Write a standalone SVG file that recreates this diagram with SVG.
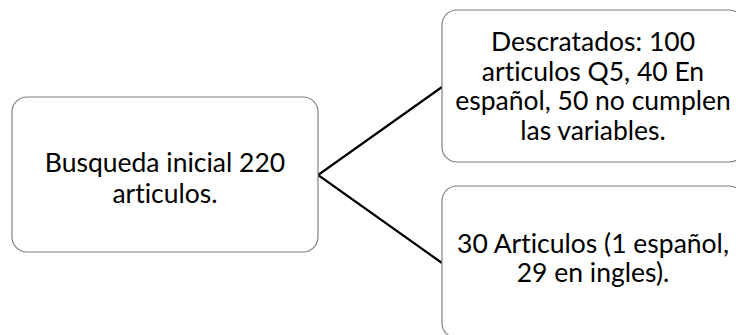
<svg xmlns="http://www.w3.org/2000/svg" width="736" height="335" viewBox="0 0 736 335">
<style>
.box{fill:#ffffff;stroke:#808080;stroke-width:1.2}
.t{font-family:Lato,"Open Sans",sans-serif;font-size:26.5px;fill:#000000;text-anchor:middle;font-variant-ligatures:none;font-feature-settings:"liga" 0,"clig" 0}
.c{stroke:#000000;stroke-width:2.2;fill:none}
</style>
<rect width="736" height="335" fill="#ffffff"/>
<g id="connectors">
<polyline class="c" points="442,87 318,175 442,263"/>
</g>
<g id="n1">
<rect class="box" x="12" y="97" width="306" height="155" rx="15" ry="15"/>
<text class="t" x="165" y="172">Busqueda inicial 220</text>
<text class="t" x="165" y="203">articulos.</text>
</g>
<g id="n2">
<rect class="box" x="442" y="10" width="302" height="152" rx="15" ry="15"/>
<text class="t" x="593" y="51">Descratados: 100</text>
<text class="t" x="593" y="80.5">articulos Q5, 40 En</text>
<text class="t" x="593" y="110">español, 50 no cumplen</text>
<text class="t" x="593" y="139.5">las variables.</text>
</g>
<g id="n3">
<rect class="box" x="442" y="186" width="302" height="152" rx="15" ry="15"/>
<text class="t" x="593" y="253">30 Articulos (1 español,</text>
<text class="t" x="593" y="282">29 en ingles).</text>
</g>
</svg>
